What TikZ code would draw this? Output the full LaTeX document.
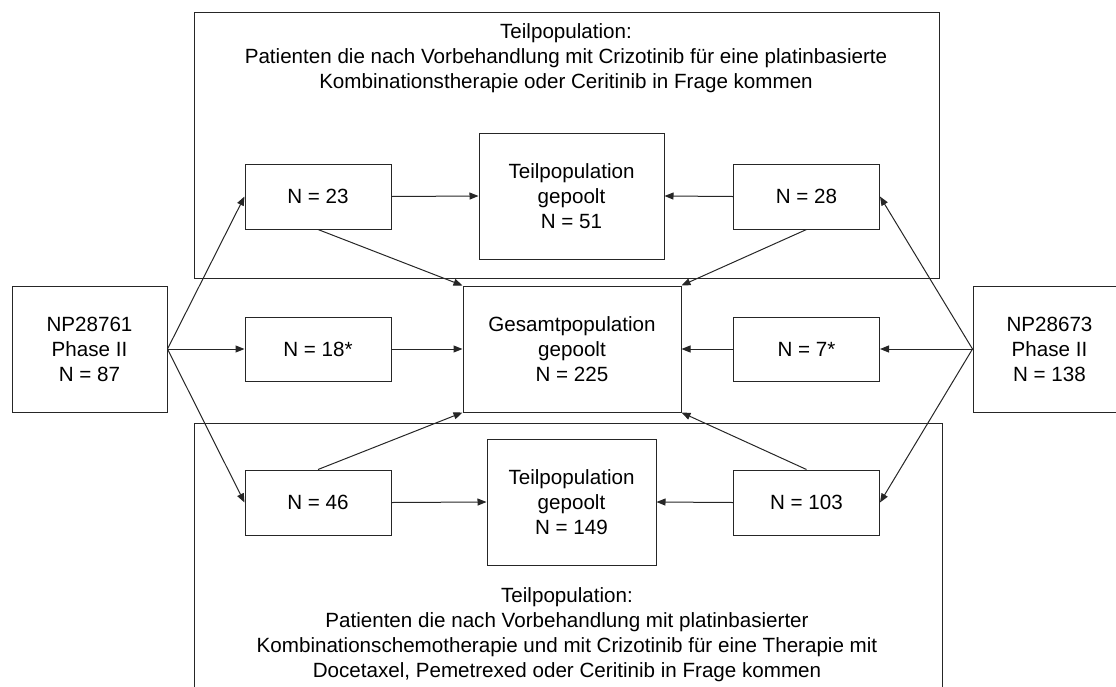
\documentclass[tikz,border=0pt]{standalone}
\usepackage{fontspec}
\setmainfont{Liberation Sans}
\usetikzlibrary{arrows.meta}
\begin{document}
\begin{tikzpicture}[x=1pt,y=-1pt,
  every node/.style={font=\fontsize{20.6}{25}\selectfont, align=center, inner sep=0pt},
  frame/.style={draw=black!85, line width=1pt},
  nbox/.style={draw=black!85, line width=1pt, minimum width=146pt, minimum height=65pt},
  tallbox/.style={draw=black!85, line width=1pt, minimum height=126pt},
  arr/.style={draw=black!85, line width=1pt, -{Triangle[length=9pt,width=7pt]}}
]
\useasboundingbox (0,0) rectangle (1116,686);

% group frames
\node[frame, minimum width=745pt, minimum height=266pt] (topframe) at (566.5,145) {};
\node[frame, minimum width=748pt, minimum height=290pt] (botframe) at (568,568) {};

\node (toptext) at (566,58) {Teilpopulation:\\Patienten die nach Vorbehandlung mit Crizotinib für eine platinbasierte\\Kombinationstherapie oder Ceritinib in Frage kommen};
\node (bottext) at (567,635) {Teilpopulation:\\Patienten die nach Vorbehandlung mit platinbasierter\\Kombinationschemotherapie und mit Crizotinib für eine Therapie mit\\Docetaxel, Pemetrexed oder Ceritinib in Frage kommen};

% study boxes
\node[tallbox, minimum width=155pt] (np1) at (89.5,349) {NP28761\\Phase II\\N = 87};
\node[tallbox, minimum width=153pt] (np2) at (1049.5,349) {NP28673\\Phase II\\N = 138};

% pooled boxes
\node[tallbox, minimum width=218pt] (ges) at (572,349) {Gesamtpopulation\\gepoolt\\N = 225};
\node[tallbox, minimum width=185pt] (t51) at (571.5,196) {Teilpopulation\\gepoolt\\N = 51};
\node[tallbox, minimum width=169pt] (t149) at (571.5,502) {Teilpopulation\\gepoolt\\N = 149};

% count boxes
\node[nbox] (n23) at (318,196.5) {N = 23};
\node[nbox, minimum height=64pt] (n18) at (318,349) {N = 18*};
\node[nbox] (n46) at (318,502.5) {N = 46};
\node[nbox] (n28) at (806.5,196.5) {N = 28};
\node[nbox, minimum height=64pt] (n7) at (806.5,349) {N = 7*};
\node[nbox] (n103) at (806.5,502.5) {N = 103};

% connectors from studies
\draw[arr] (np1.east) -- (n23.west);
\draw[arr] (np1.east) -- (n18.west);
\draw[arr] (np1.east) -- (n46.west);
\draw[arr] (np2.west) -- (n28.east);
\draw[arr] (np2.west) -- (n7.east);
\draw[arr] (np2.west) -- (n103.east);

% to sub-populations
\draw[arr] (n23.east) -- (t51.west);
\draw[arr] (n28.west) -- (t51.east);
\draw[arr] (n46.east) -- (t149.west);
\draw[arr] (n103.west) -- (t149.east);

% to total population
\draw[arr] (n18.east) -- (ges.west);
\draw[arr] (n7.west) -- (ges.east);
\draw[arr] (n23.south) -- (ges.north west);
\draw[arr] (n28.south) -- (ges.north east);
\draw[arr] (n46.north) -- (ges.south west);
\draw[arr] (n103.north) -- (ges.south east);
\end{tikzpicture}
\end{document}
